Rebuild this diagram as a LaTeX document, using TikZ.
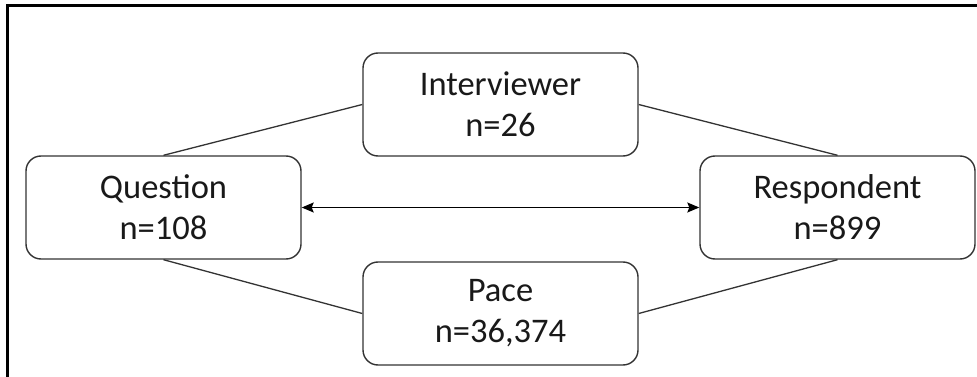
\documentclass[tikz,border=0pt]{standalone}
\usepackage{fontspec}
\setmainfont{Carlito}
\usetikzlibrary{arrows.meta}
\begin{document}
\begin{tikzpicture}[x=1pt,y=-1pt,
  box/.style={draw=black!80, line width=1.4pt, rounded corners=15pt,
    minimum width=275pt, minimum height=103pt, inner sep=0pt, align=center,
    text=black!90, font=\fontsize{34.5}{41}\selectfont},
  link/.style={draw=black!80, line width=1.3pt},
  dbl/.style={draw=black, line width=1.3pt, {Stealth[length=12pt,width=10pt,inset=2pt]}-{Stealth[length=12pt,width=10pt,inset=2pt]}}]
\useasboundingbox (0,0) rectangle (977,377);
\fill[white] (0,0) rectangle (977,377);
\draw[line width=2.5pt] (7.5,377) -- (7.5,5.5) -- (977,5.5);
\node[box] (q) at (163.5,207.5) {Question\\n=108};
\node[box] (i) at (500.5,104.5) {Interviewer\\n=26};
\node[box] (r) at (837.5,207.5) {Respondent\\n=899};
\node[box] (p) at (500.5,313.5) {Pace\\n=36,374};
\draw[link] (q.north) -- (i.west);
\draw[link] (i.east) -- (r.north);
\draw[link] (q.south) -- (p.west);
\draw[link] (p.east) -- (r.south);
\draw[dbl] (q.east) -- (r.west);
\end{tikzpicture}
\end{document}
